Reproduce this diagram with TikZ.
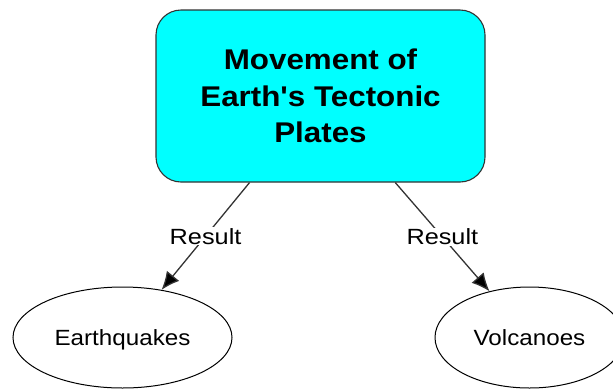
\documentclass[tikz,border=0pt]{standalone}
\usepackage{fontspec}
\newfontfamily\lsans{Liberation Sans}[FakeStretch=1.1]
\newfontfamily\lsansw{Liberation Sans}[FakeStretch=1.15]
\usetikzlibrary{shapes.geometric,arrows.meta}
\definecolor{boxcyan}{HTML}{00FFFF}
\definecolor{edgegray}{HTML}{333333}
\begin{document}
\begin{tikzpicture}[x=1pt,y=-1pt,
  titlebox/.style={draw=edgegray,line width=1.1pt,fill=boxcyan,rounded corners=25pt,
    minimum width=329pt,minimum height=172pt,align=center,
    font=\lsans\bfseries\fontsize{28.5pt}{36.5pt}\selectfont},
  oval/.style={ellipse,draw=black,line width=1pt,minimum height=101pt,
    text height=15.7pt,text depth=0pt,inner sep=0pt,
    font=\lsans\fontsize{22pt}{24pt}\selectfont},
  conn/.style={draw=edgegray,line width=1.3pt,-{Latex[length=18pt,width=16pt,fill=black]}},
  lbl/.style={fill=white,inner sep=1pt,text height=16pt,text depth=0pt,
    font=\lsansw\fontsize{22pt}{24pt}\selectfont}]
\useasboundingbox (0,0) rectangle (613,389);
\node[titlebox] (title) at (320.5,96) {Movement of\\Earth's Tectonic\\Plates};
\node[oval,minimum width=219pt] (eq) at (122.5,337.5) {Earthquakes};
\node[oval,minimum width=189pt] (vol) at (529.5,337.5) {Volcanoes};
\draw[conn] (title) -- node[lbl] {Result} (eq);
\draw[conn] (title) -- node[lbl] {Result} (vol);
\end{tikzpicture}
\end{document}
